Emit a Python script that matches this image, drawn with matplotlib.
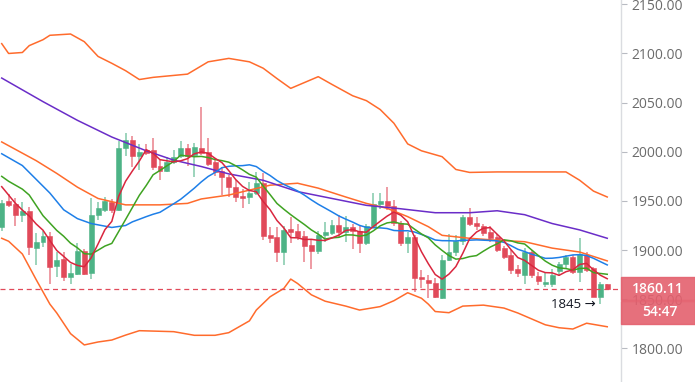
import numpy as np
import pandas as pd
import matplotlib
matplotlib.use("Agg")
import matplotlib.pyplot as plt
from matplotlib.patches import Rectangle

# candle data
opens = [1923, 1950, 1946.5, 1936, 1940, 1902, 1908, 1914, 1884, 1891,
         1873, 1876, 1899, 1877, 1936, 1941, 1949, 1941, 2004, 2012,
         1996, 2002, 2002, 1986, 1980, 1990, 1995.7, 2004, 1997, 2004,
         2000, 1990, 1980, 1974, 1964, 1955, 1953.7, 1958, 1968, 1915,
         1913.6, 1898, 1921, 1919, 1914, 1905, 1899, 1915, 1917, 1926,
         1918, 1923, 1919, 1907, 1924, 1946.5, 1950, 1945, 1928, 1907.5,
         1913.6, 1873, 1869.5, 1867, 1851.5, 1890, 1897.7, 1909, 1934, 1928,
         1925, 1918, 1913.6, 1902, 1895, 1880.7, 1875, 1898, 1874, 1865.5,
         1866, 1878.7, 1885.5, 1893, 1878, 1895, 1882, 1852.5, 1866]
highs = [1951, 1957, 1953, 1949, 1944, 1917, 1919, 1918, 1898, 1898,
         1886, 1907, 1901, 1953, 1949, 1954, 1952, 2011, 2019, 2016,
         2008, 2008, 2014, 1993, 1995, 2002, 2011, 2008, 2009, 2046,
         2014, 1994, 1985, 1976, 1971, 1962, 1969, 1979, 1978, 1923,
         1923, 1924.5, 1934, 1927, 1919, 1910, 1919, 1929, 1931, 1936,
         1935, 1927, 1925, 1927, 1958, 1958, 1964.5, 1951, 1930, 1918,
         1915, 1880, 1875, 1872, 1895, 1916, 1915, 1936, 1942.5, 1934,
         1926.5, 1924, 1916, 1904, 1900, 1885, 1902, 1900, 1878, 1878,
         1881, 1888, 1895, 1895, 1912, 1898, 1883, 1868, 1866]
lows = [1919, 1944, 1925, 1929, 1895, 1885, 1903, 1865, 1873, 1869,
        1866, 1875, 1875, 1871, 1931, 1939, 1938, 1940, 1996, 1985,
        1981, 1997, 1981, 1971, 1979, 1988, 1994, 1986, 1974, 1997,
        1986, 1975, 1956, 1954, 1949, 1943, 1947, 1956, 1910, 1907,
        1888, 1885, 1907, 1910, 1888, 1881, 1896, 1908, 1915, 1913.6,
        1908, 1901, 1897, 1905, 1922, 1942, 1941, 1925, 1904, 1897,
        1857, 1861, 1851.5, 1851, 1850, 1889, 1894, 1905, 1925, 1920,
        1914, 1908.5, 1898, 1891, 1876, 1873, 1866, 1872, 1864, 1862,
        1862, 1874, 1881, 1876, 1868, 1878, 1852, 1845, 1860]
closes = [1948, 1946, 1936, 1940, 1903, 1908, 1914, 1883, 1890, 1873,
          1877, 1899, 1876, 1936, 1943, 1950, 1941, 2004, 2012, 1996,
          2000, 1999, 1985, 1980, 1990, 1995, 2004, 1996, 2005, 1999,
          1988, 1979, 1974, 1964, 1954, 1953, 1958, 1968, 1914, 1912.5,
          1898, 1920, 1918.7, 1913, 1904, 1899, 1915, 1918, 1926, 1918,
          1923, 1919, 1907, 1924, 1946.5, 1950, 1945, 1928, 1907.5, 1913.6,
          1872, 1870.6, 1867, 1852.5, 1890, 1897.7, 1909, 1934, 1927, 1924,
          1917, 1912.6, 1900, 1893, 1880, 1876.3, 1898, 1874.6, 1868.5, 1868,
          1875, 1885.5, 1893, 1878, 1895.7, 1880, 1852.5, 1866, 1860.11]

# start of the short averages (earlier bars are off screen)
ma5_head_idx = [0, 1, 2, 3]
ma5_head = [1964.5, 1956, 1947.5, 1940.7]
ma10_head_idx = [0, 1, 3, 4, 6, 8]
ma10_head = [1975, 1970, 1962, 1956, 1935, 1920]
ma20_head_idx = [0, 3, 4, 7, 9, 11, 13, 16, 18]
ma20_head = [1998, 1986, 1979, 1958, 1941, 1932, 1927, 1923, 1925]

# long average + bands, read at bar indices
slow_idx = [0, 3, 6, 11, 16, 21, 25, 29, 33, 38, 43, 48, 53, 58, 63, 68, 72, 76, 80, 84, 88]
slow_ma = [2075, 2063, 2051, 2032, 2015, 2001, 1991.5, 1985, 1977.5, 1971, 1959.5,
           1952.5, 1945.5, 1942, 1938, 1938, 1940, 1936, 1927, 1920.5, 1912]

mid_idx = [0, 5, 8, 11, 14, 18, 23, 27, 29, 33, 36, 39, 43, 46, 50, 53, 56, 59,
           62, 64, 68, 72, 76, 80, 84, 88]
mid_line = [2010, 1991, 1978, 1964, 1952.5, 1946, 1946, 1947.5, 1952, 1956, 1961, 1966,
            1968, 1963, 1954, 1947.5, 1942.5, 1934, 1923.8, 1915, 1912, 1910, 1908.5,
            1902, 1898, 1889]

upper_idx = [0, 1, 3, 4, 6, 7, 10, 12, 14, 16, 18, 20, 22, 27, 30, 33, 36, 38, 40, 42,
             46, 48, 51, 53, 55, 57, 59, 61, 64, 66, 68, 72, 76, 82, 84, 86, 88]
upper_band = [2110, 2100, 2101, 2108, 2114, 2118.5, 2119.8, 2112, 2097, 2090, 2082.5,
              2073.5, 2075.7, 2079, 2091.5, 2095, 2091.5, 2085, 2074.5, 2064.5, 2076.4,
              2068.5, 2057, 2052, 2043, 2029, 2008, 2001, 1995, 1982, 1979, 1979.5,
              1979.5, 1979.5, 1971, 1960, 1954]

lower_idx = [0, 1, 3, 5, 7, 8, 10, 12, 14, 16, 18, 20, 25, 28, 31, 33, 36, 37, 39, 41,
             42, 43, 45, 47, 50, 52, 55, 57, 59, 61, 62, 63, 65, 67, 70, 73, 75, 79, 81,
             83, 85, 88]
lower_band = [1912, 1909, 1896, 1870, 1845, 1836, 1815, 1803.5, 1806.5, 1808.5, 1813.5,
              1818, 1817, 1813.3, 1813.3, 1816, 1828, 1839, 1852.5, 1861, 1870.5, 1866,
              1854.5, 1848, 1843, 1839, 1842.5, 1848.5, 1856.6, 1851, 1845, 1837.5,
              1836.3, 1843, 1844, 1841, 1836, 1824, 1821, 1819.7, 1825.6, 1822]

price_ticks = [1800, 1850, 1900, 1950, 2000, 2050, 2100, 2150]
last_price = 1860.11
countdown = "54:47"

UP = "#4DB386"
DOWN = "#E14A5A"

df = pd.DataFrame({"open": opens, "high": highs, "low": lows, "close": closes})
n = len(df)
x = np.arange(n)


def sma_line(period, head_idx, head):
    ma = df["close"].rolling(period).mean()
    xs = list(head_idx) + list(range(period - 1, n))
    ys = list(head) + list(ma.iloc[period - 1:])
    return xs, ys


fig = plt.figure(figsize=(6.95, 3.82), dpi=100)
ax = fig.add_axes([0, 0, 621 / 695, 1])

up = df["close"] >= df["open"]
colors = np.where(up, UP, DOWN)

# wicks then bodies
ax.vlines(x, df["low"], df["high"], colors=colors, linewidth=1.1, alpha=0.7, zorder=2)
body_lo = np.minimum(df["open"], df["close"])
body_h = np.maximum(np.abs(df["close"] - df["open"]), 1.2)
ax.bar(x, body_h, bottom=body_lo, width=0.72, color=colors, edgecolor=colors,
       linewidth=0.4, zorder=3)

# indicators
ax.plot(upper_idx, upper_band, color="#FF6B2C", lw=1.1, zorder=4)
ax.plot(lower_idx, lower_band, color="#FF6B2C", lw=1.1, zorder=4)
ax.plot(mid_idx, mid_line, color="#FF6B2C", lw=1.1, zorder=4)
ax.plot(slow_idx, slow_ma, color="#6A2DC8", lw=1.1, zorder=4)
ax.plot(*sma_line(20, ma20_head_idx, ma20_head), color="#1E7FE8", lw=1.1, zorder=4)
ax.plot(*sma_line(10, ma10_head_idx, ma10_head), color="#3FA322", lw=1.1, zorder=4)
ax.plot(*sma_line(5, ma5_head_idx, ma5_head), color="#D9263E", lw=1.1, zorder=4)

# last price line
ax.axhline(last_price, color=DOWN, lw=0.9, ls=(0, (4, 3)), zorder=5)

# lowest low marker
lo_i = int(df["low"].idxmin())
ax.annotate(f"{df['low'].min():.0f} \u2192", xy=(lo_i, df["low"].min()),
            xytext=(-3, 0), textcoords="offset points", ha="right", va="center",
            fontsize=9.5, color="#131722", family=["Open Sans", "DejaVu Sans"], zorder=6)

ax.set_xlim(-0.25, 90.0)
ax.set_ylim(1765.8, 2154.4)

for s in ["top", "left", "bottom"]:
    ax.spines[s].set_visible(False)
ax.spines["right"].set_color("#DADCE0")
ax.spines["right"].set_linewidth(1)
ax.set_xticks([])
ax.yaxis.tick_right()
ax.set_yticks(price_ticks)
ax.set_yticklabels([f"{v:.2f}" for v in price_ticks], family="Open Sans", fontsize=10,
                   color="#6B6B6B")
ax.tick_params(axis="y", length=4.3, width=0.8, color="#B8BBC2", pad=3.4)

# price + countdown boxes on the scale
x0 = 621 / 695
fig.add_artist(Rectangle((x0, (382 - 300) / 382), 1 - x0, 23 / 382,
                         transform=fig.transFigure, color="#E4606E", alpha=0.9, zorder=10))
fig.add_artist(Rectangle((x0, (382 - 324) / 382), 1 - x0, 23 / 382,
                         transform=fig.transFigure, color="#E4606E", alpha=0.9, zorder=10))
fig.text(632 / 695, (382 - 289) / 382, f"{last_price:.2f}", color="white", fontsize=10,
         family="Open Sans", fontweight="semibold", va="center", ha="left", zorder=11)
fig.text(660 / 695, (382 - 312) / 382, countdown, color="white", fontsize=10,
         family="Open Sans", fontweight="semibold", va="center", ha="center", zorder=11)

fig.savefig("out.png", dpi=100)
